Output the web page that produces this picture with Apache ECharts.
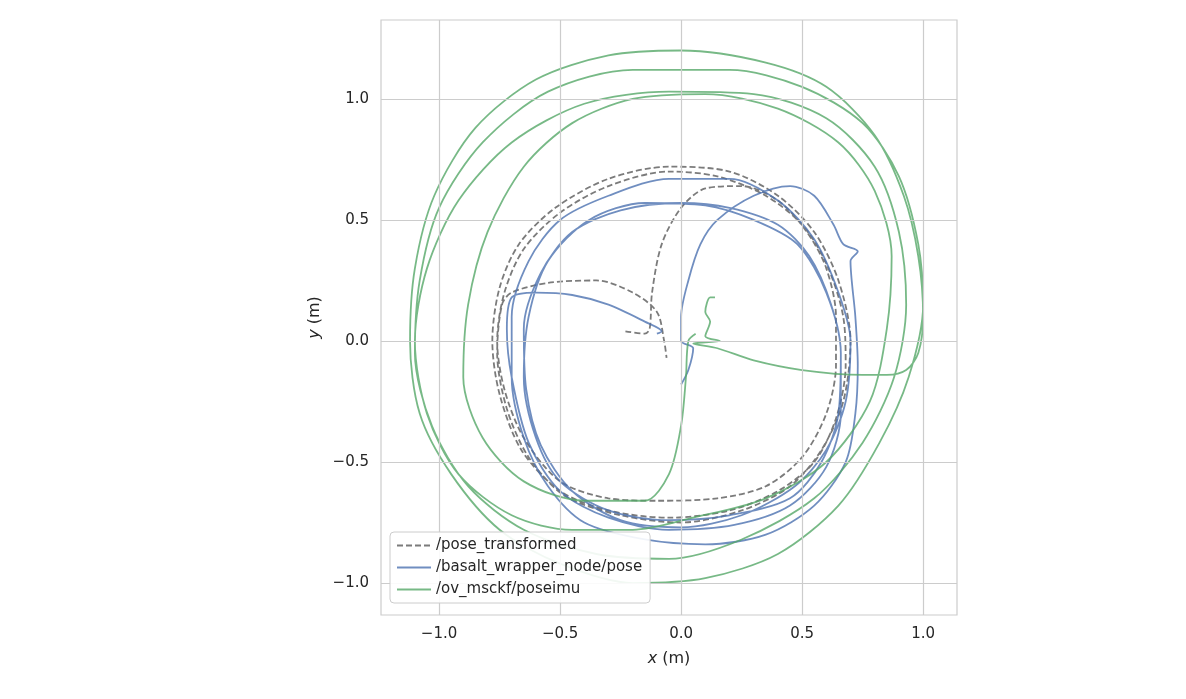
<!DOCTYPE html>
<html>
<head>
<meta charset="utf-8">
<script src="https://cdn.jsdelivr.net/npm/echarts@6/dist/echarts.min.js"></script>
<style>html,body{margin:0;padding:0;background:#fff;}#chart{width:1186px;height:699px;}</style>
</head>
<body>
<div id="chart"></div>
<script>
var seriesNames = ['/pose_transformed', '/basalt_wrapper_node/pose', '/ov_msckf/poseimu'];
var tickValues = [-1.0, -0.5, 0.0, 0.5, 1.0];

var poseTransformed = [[-0.23,0.04],[-0.15,0.03],[-0.13,0.05],[-0.12,0.2],[-0.08,0.4],[0.0,0.55],[0.1,0.63],[0.25,0.64],[0.4,0.58],[0.52,0.45],[0.6,0.3],[0.64,0.1],[0.64,-0.1],[0.6,-0.3],[0.5,-0.48],[0.35,-0.6],[0.15,-0.65],[-0.1,-0.66],[-0.3,-0.65],[-0.5,-0.58],[-0.65,-0.4],[-0.73,-0.2],[-0.76,0.0],[-0.73,0.2],[-0.65,0.38],[-0.5,0.53],[-0.3,0.64],[-0.05,0.7],[0.15,0.68],[0.35,0.6],[0.5,0.48],[0.6,0.32],[0.67,0.1],[0.68,-0.1],[0.64,-0.32],[0.55,-0.5],[0.4,-0.62],[0.2,-0.7],[-0.05,-0.73],[-0.3,-0.7],[-0.5,-0.62],[-0.66,-0.45],[-0.75,-0.22],[-0.78,0.0],[-0.75,0.22],[-0.67,0.4],[-0.52,0.55],[-0.3,0.67],[-0.05,0.72],[0.2,0.7],[0.4,0.6],[0.55,0.45],[0.65,0.25],[0.7,0.0],[0.67,-0.25],[0.58,-0.45],[0.45,-0.6],[0.25,-0.7],[0.0,-0.75],[-0.25,-0.72],[-0.48,-0.64],[-0.63,-0.48],[-0.72,-0.28],[-0.76,-0.05],[-0.74,0.15],[-0.7,0.2],[-0.55,0.24],[-0.35,0.25],[-0.2,0.2],[-0.1,0.12],[-0.07,0.0],[-0.06,-0.07]];

var basaltPose = [[0.0,-0.18],[0.03,-0.12],[0.05,-0.03],[0.0,0.0],[0.0,0.1],[0.03,0.25],[0.08,0.4],[0.15,0.5],[0.3,0.6],[0.45,0.64],[0.55,0.6],[0.63,0.48],[0.67,0.4],[0.73,0.37],[0.7,0.33],[0.72,0.1],[0.73,-0.1],[0.72,-0.3],[0.68,-0.5],[0.55,-0.68],[0.35,-0.8],[0.1,-0.84],[-0.15,-0.82],[-0.4,-0.75],[-0.55,-0.6],[-0.65,-0.4],[-0.7,-0.15],[-0.7,0.1],[-0.63,0.33],[-0.5,0.5],[-0.3,0.6],[-0.05,0.67],[0.2,0.67],[0.4,0.58],[0.55,0.42],[0.65,0.2],[0.7,0.0],[0.68,-0.25],[0.6,-0.45],[0.47,-0.6],[0.25,-0.72],[0.0,-0.77],[-0.25,-0.74],[-0.45,-0.62],[-0.58,-0.43],[-0.64,-0.2],[-0.65,0.05],[-0.58,0.28],[-0.45,0.45],[-0.25,0.54],[0.0,0.57],[0.2,0.55],[0.4,0.48],[0.53,0.35],[0.62,0.15],[0.66,-0.05],[0.65,-0.3],[0.58,-0.5],[0.45,-0.65],[0.2,-0.72],[-0.05,-0.74],[-0.3,-0.7],[-0.5,-0.58],[-0.6,-0.4],[-0.65,-0.15],[-0.63,0.1],[-0.55,0.33],[-0.38,0.5],[-0.15,0.57],[0.1,0.56],[0.3,0.5],[0.48,0.4],[0.6,0.2],[0.66,-0.05],[0.66,-0.3],[0.6,-0.52],[0.45,-0.68],[0.22,-0.76],[-0.05,-0.78],[-0.3,-0.73],[-0.5,-0.62],[-0.63,-0.42],[-0.7,-0.15],[-0.72,0.05],[-0.7,0.18],[-0.6,0.2],[-0.45,0.19],[-0.3,0.15],[-0.15,0.08],[-0.08,0.04],[-0.1,0.03]];

var msckfPose = [[0.14,0.18],[0.12,0.18],[0.1,0.12],[0.12,0.08],[0.1,0.02],[0.16,0.0],[0.05,-0.01],[0.15,-0.03],[0.3,-0.08],[0.5,-0.12],[0.75,-0.14],[0.85,-0.14],[0.93,-0.12],[0.98,-0.05],[1.0,0.1],[0.98,0.35],[0.92,0.6],[0.8,0.85],[0.6,1.05],[0.35,1.15],[0.0,1.2],[-0.3,1.18],[-0.6,1.08],[-0.85,0.88],[-1.02,0.6],[-1.1,0.3],[-1.12,0.0],[-1.08,-0.3],[-0.95,-0.55],[-0.75,-0.78],[-0.5,-0.92],[-0.2,-1.0],[0.1,-0.98],[0.4,-0.88],[0.65,-0.68],[0.82,-0.42],[0.94,-0.15],[1.0,0.15],[0.98,0.4],[0.9,0.68],[0.75,0.9],[0.5,1.05],[0.2,1.12],[-0.2,1.12],[-0.55,1.03],[-0.82,0.82],[-1.0,0.55],[-1.08,0.25],[-1.1,-0.05],[-1.03,-0.35],[-0.88,-0.6],[-0.65,-0.78],[-0.35,-0.88],[-0.05,-0.9],[0.25,-0.82],[0.55,-0.65],[0.75,-0.42],[0.88,-0.15],[0.93,0.15],[0.9,0.45],[0.8,0.72],[0.6,0.92],[0.3,1.02],[-0.05,1.03],[-0.4,0.98],[-0.7,0.82],[-0.92,0.58],[-1.05,0.3],[-1.1,0.0],[-1.05,-0.3],[-0.92,-0.55],[-0.7,-0.72],[-0.45,-0.78],[-0.2,-0.78],[0.05,-0.73],[0.35,-0.65],[0.6,-0.5],[0.78,-0.25],[0.85,0.05],[0.87,0.35],[0.8,0.62],[0.65,0.82],[0.4,0.96],[0.1,1.02],[-0.2,1.0],[-0.45,0.9],[-0.65,0.72],[-0.8,0.45],[-0.88,0.15],[-0.9,-0.15],[-0.82,-0.4],[-0.65,-0.58],[-0.4,-0.66],[-0.15,-0.66],[-0.05,-0.55],[0.0,-0.35],[0.02,-0.15],[0.03,0.0],[0.06,0.03]];

function fmt(v){ return v.toFixed(1).replace('-', '\u2212'); }

var gridLines = [];
tickValues.forEach(function(v){
	gridLines.push({xAxis: v});
	gridLines.push({yAxis: v});
});

var myChart = echarts.init(document.getElementById('chart'));
var option = {
	backgroundColor: '#fff',
	animation: false,
	textStyle: {fontFamily: 'DejaVu Sans'},
	grid: {left: 381, right: 229, top: 20, bottom: 84, show: true, borderColor: '#cccccc', borderWidth: 1.2, backgroundColor: '#fff'},
	xAxis: {
		type: 'value', min: -1.24, max: 1.14,
		splitLine: {show: false},
		axisLine: {show: false}, axisTick: {show: false},
		axisLabel: {customValues: tickValues, formatter: fmt, fontSize: 15, color: '#262626', margin: 12},
		name: '{i|x} (m)', nameLocation: 'middle', nameGap: 36,
		nameTextStyle: {fontSize: 16, color: '#262626', rich: {i: {fontStyle: 'italic', fontSize: 16, color: '#262626'}}}
	},
	yAxis: {
		type: 'value', min: -1.132, max: 1.326,
		splitLine: {show: false},
		axisLine: {show: false}, axisTick: {show: false},
		axisLabel: {customValues: tickValues, formatter: fmt, fontSize: 15, color: '#262626', margin: 12},
		name: '{i|y} (m)', nameLocation: 'middle', nameGap: 58, nameRotate: 90,
		nameTextStyle: {fontSize: 16, color: '#262626', rich: {i: {fontStyle: 'italic', fontSize: 16, color: '#262626'}}}
	},
	legend: {
		orient: 'vertical', left: 390, top: 532, z: 100, zlevel: 1,
		backgroundColor: 'rgba(255,255,255,0.9)', borderColor: '#cccccc', borderWidth: 1, borderRadius: 4,
		padding: [6, 8, 6, 6], itemGap: 7, itemWidth: 34, itemHeight: 14,
		itemStyle: {opacity: 0},
		textStyle: {fontSize: 15, color: '#262626'},
		data: seriesNames
	},
	series: [
		{
			name: 'grid', type: 'line', data: [], silent: true, z: 0,
			markLine: {silent: true, symbol: 'none', label: {show: false},
				lineStyle: {color: '#cccccc', type: 'solid', width: 1.2}, data: gridLines}
		},
		{
			name: seriesNames[0], type: 'line', data: poseTransformed, showSymbol: false, symbol: 'none', smooth: 0.3,
			lineStyle: {color: 'rgba(100,100,100,0.85)', width: 1.8, type: [6, 3]}, itemStyle: {color: 'rgba(100,100,100,0.85)'}
		},
		{
			name: seriesNames[1], type: 'line', data: basaltPose, showSymbol: false, symbol: 'none', smooth: 0.3,
			lineStyle: {color: 'rgba(76,114,176,0.8)', width: 1.8}, itemStyle: {color: 'rgba(76,114,176,0.8)'}
		},
		{
			name: seriesNames[2], type: 'line', data: msckfPose, showSymbol: false, symbol: 'none', smooth: 0.3,
			lineStyle: {color: 'rgba(85,168,104,0.8)', width: 1.8}, itemStyle: {color: 'rgba(85,168,104,0.8)'}
		}
	]
};
myChart.setOption(option);
</script>
</body>
</html>
